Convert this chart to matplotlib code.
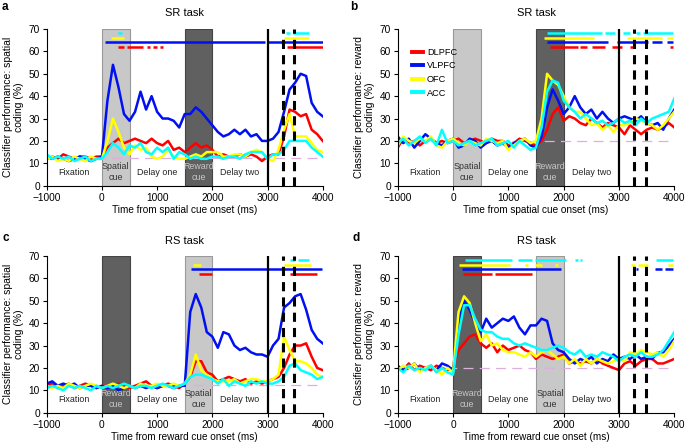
import numpy as np
import matplotlib.pyplot as plt

plt.rcParams['font.family'] = ['Liberation Sans', 'DejaVu Sans']

# time axis (ms), one value every 100 ms
T = list(range(-1000, 4001, 100))

# panel a: SR task, spatial coding
a_dlpfc = [12,13,12,14,13,12,13,13,12,13,13, 17,19,21,19,20,21,20,19,21,19,
           18,20,16,17,15,17,19,17,18,16, 13,14,13,13,14,13,14,13,11,13,
           14,14,22,34,33,31,32,25,23,20]
a_vlpfc = [13,12,13,12,11,12,13,12,11,12,13, 38,54,44,32,29,33,42,34,40,33,
           30,30,29,26,32,32,35,33,30,27, 24,22,23,25,23,25,22,23,20,20,
           21,24,33,43,46,50,49,37,33,31]
a_ofc = [12,13,11,12,11,13,12,11,13,12,12, 20,30,24,17,14,18,16,17,13,12,
         13,16,13,12,12,13,14,13,15,15, 15,13,13,14,14,13,15,16,15,12,
         11,16,25,32,22,22,22,19,16,15]
a_acc = [14,12,13,12,13,11,12,13,11,12,12, 15,19,17,14,18,17,19,15,14,17,
         15,17,12,15,14,12,13,12,12,13, 13,12,13,13,12,14,15,15,15,12,
         14,14,16,20,20,20,20,17,15,13]

# panel b: SR task, reward coding
b_dlpfc = [17,21,19,20,18,20,21,19,20,19,20, 21,19,20,21,20,19,21,20,20,18,
           19,21,20,19,18, 20,25,32,35,29, 31,30,28,27,30,28,26,28,27,26,
           23,27,25,23,25,26,25,26,28,26]
b_vlpfc = [22,19,21,17,20,23,21,19,18,20,21, 17,18,21,20,17,19,20,18,19,17,
           19,20,21,18,17, 22,35,43,38,32, 35,40,35,32,34,30,33,30,28,30,
           31,30,29,31,28,27,28,25,30,34]
b_ofc = [18,22,20,19,21,20,22,18,17,20,21, 19,18,20,19,18,21,20,19,20,16,
         18,20,21,19,20, 30,50,47,45,40, 35,33,33,30,27,28,25,27,24,27,
         27,28,30,29,28,27,25,27,30,33]
b_acc = [19,21,18,20,22,19,21,18,25,19,20, 18,19,20,18,19,20,21,18,19,20,
         17,20,18,16,17, 26,42,47,46,38, 35,33,30,32,30,28,29,27,28,30,
         28,29,27,30,28,30,31,32,33,39]

# panel c: RS task, spatial coding
c_dlpfc = [12,13,11,12,13,11,12,13,12,11,12, 12,11,13,12,11,12,13,14,12,11,
           12,13,12,11,13, 16,23,23,18,17, 14,15,16,15,14,15,13,14,13,14,
           15,16,20,26,30,30,31,25,20,19]
c_vlpfc = [13,14,12,13,12,13,11,12,12,11,12, 11,12,10,11,12,11,12,11,12,11,
           12,12,11,12,12, 45,53,47,36,34, 29,36,35,30,28,29,27,26,26,25,
           30,33,47,49,52,53,46,37,33,31]
c_ofc = [12,11,12,11,13,12,11,12,13,12,11, 12,13,12,11,12,11,13,12,12,13,
         12,12,13,12,13, 17,26,19,17,15, 14,14,14,15,13,14,15,15,14,14,
         15,17,34,28,23,23,22,20,17,16]
c_acc = [11,12,11,10,12,11,12,11,10,12,11, 12,11,12,13,12,11,12,12,11,12,
         13,12,11,12,13, 16,17,17,16,15, 13,15,12,14,13,12,14,13,14,13,
         13,14,16,21,22,19,18,17,15,16]

# panel d: RS task, reward coding
d_dlpfc = [20,19,22,19,21,20,19,21,20,19,20, 28,31,34,35,31,29,31,27,30,28,
           29,30,28,27,24,26,25,24,25,26, 22,23,22,23,22,24,22,21,20,19,
           22,23,21,23,24,24,22,22,23,24]
d_vlpfc = [21,19,20,22,19,20,21,19,22,21,19, 40,50,46,40,36,42,38,40,42,41,
           43,38,35,39,39,42,41,31,28,27, 24,22,24,23,25,22,24,23,26,24,
           25,24,26,24,25,24,27,27,30,33]
d_ofc = [19,21,20,22,18,20,21,19,17,20,18, 45,52,49,40,32,35,30,31,28,27,
         27,26,25,27,25,27,28,26,24,25, 22,24,21,24,22,24,23,22,23,24,
         23,27,26,28,27,26,27,25,28,32]
d_acc = [20,18,21,19,20,19,21,18,20,18,17, 35,48,48,42,37,36,36,34,33,33,
         31,30,31,30,29,28,28,29,30,29, 27,26,28,25,26,25,27,26,25,23,
         25,26,25,27,25,25,26,28,32,36]

# significance bars (start, end) in ms, order DLPFC, VLPFC, OFC, ACC
a_sig = [[(300,400),(450,750),(810,870),(920,990),(1050,1110),(3360,4000)],
         [(57,2955),(3015,4000)],
         [(165,400),(3290,3760)],
         [(290,360),(3340,3410),(3455,3760)]]
b_sig = [[(1750,2265),(2300,2420),(2510,2750),(2880,3050),(3200,3290),(3920,3985)],
         [(1690,2810),(2960,3530),(3590,3770),(3860,3985)],
         [(1645,2540),(3140,3770),(3860,3985)],
         [(1690,2690),(2750,2930),(3070,3200),(3310,3380),(3440,3985)]]
c_sig = [[(1760,2000),(3410,3890)],
         [(1610,3995)],
         [(1650,1790),(3300,3780)],
         [(3400,3500),(3550,3750)]]
d_sig = [[(187,700),(760,1430)],
         [(157,1947),(3300,3350),(3650,3775),(3830,3985)],
         [(110,1030),(1300,1360),(1480,1600),(1840,1890),(3220,3290),(3350,3530),(3890,3985)],
         [(217,1060),(1170,1420),(1480,2040),(2200,2250),(2300,2340),(3660,3985)]]
sig_levels = [62, 64, 66, 68]

labels = ['DLPFC', 'VLPFC', 'OFC', 'ACC']
colors = ['#ff0000', '#0010f0', '#ffff00', '#00ffff']


def draw_panel(ax, series, sig, chance, spatial_first, title, ylab, xlab):
	light = (0, 500) if spatial_first else (1500, 2000)
	dark = (1500, 2000) if spatial_first else (0, 500)
	ax.axvspan(light[0], light[1], facecolor='#c8c8c8', edgecolor='#999999', lw=0.8, zorder=0)
	ax.axvspan(dark[0], dark[1], facecolor='#606060', edgecolor='#444444', lw=0.8, zorder=0)
	ax.axhline(chance, color='#dcb0dc', lw=0.9, dashes=(8, 5), zorder=1)

	for i, s in enumerate(series):
		ax.plot(T, s, color=colors[i], lw=1.8, label=labels[i], zorder=2)
	for i, segs in enumerate(sig):
		for (x0, x1) in segs:
			ax.plot([x0, x1], [sig_levels[i], sig_levels[i]], color=colors[i], lw=1.8,
					solid_capstyle='butt', zorder=2)

	ax.axvline(3000, color='black', lw=1.6, zorder=3)
	for xv in (3275, 3480):
		ax.axvline(xv, color='black', lw=2.2, dashes=(3, 2), zorder=3)

	tk = dict(ha='center', va='center', fontsize=6.4)
	ax.text(-500, 6, 'Fixation', color='#222222', **tk)
	ax.text(1000, 6, 'Delay one', color='#222222', **tk)
	ax.text(2500, 6, 'Delay two', color='#222222', **tk)
	ax.text(sum(light) / 2, 6, 'Spatial\ncue', color='#333333', linespacing=1.3, **tk)
	ax.text(sum(dark) / 2, 6, 'Reward\ncue', color='#c8c8c8', linespacing=1.3, **tk)

	ax.set_xlim(-1000, 4000)
	ax.set_ylim(0, 70)
	ax.set_xticks([-1000, 0, 1000, 2000, 3000, 4000])
	ax.set_yticks(range(0, 71, 10))
	ax.spines['top'].set_visible(False)
	ax.spines['right'].set_visible(False)
	ax.tick_params(labelsize=7.3, length=3, width=0.8, pad=2)
	ax.set_title(title, fontsize=8, pad=9)
	ax.set_ylabel(ylab, fontsize=7.5, labelpad=3, linespacing=1.1)
	ax.set_xlabel(xlab, fontsize=7.2, labelpad=2)
	return ax


def main():
	fig = plt.figure(figsize=(6.85, 4.44), dpi=100)
	ax1 = fig.add_axes([0.0682, 0.5818, 0.4029, 0.3529])
	ax2 = fig.add_axes([0.5806, 0.5818, 0.4038, 0.3529])
	ax3 = fig.add_axes([0.0682, 0.0705, 0.4029, 0.3529])
	ax4 = fig.add_axes([0.5806, 0.0705, 0.4038, 0.3529])

	sp = 'Classifier performance: spatial\ncoding (%)'
	rw = 'Classifier performance: reward\ncoding (%)'
	draw_panel(ax1, [a_dlpfc, a_vlpfc, a_ofc, a_acc], a_sig, 12.5, True, 'SR task', sp,
			   'Time from spatial cue onset (ms)')
	draw_panel(ax2, [b_dlpfc, b_vlpfc, b_ofc, b_acc], b_sig, 20, True, 'SR task', rw,
			   'Time from spatial cue onset (ms)')
	draw_panel(ax3, [c_dlpfc, c_vlpfc, c_ofc, c_acc], c_sig, 12.5, False, 'RS task', sp,
			   'Time from reward cue onset (ms)')
	draw_panel(ax4, [d_dlpfc, d_vlpfc, d_ofc, d_acc], d_sig, 20, False, 'RS task', rw,
			   'Time from reward cue onset (ms)')

	handles = ax2.get_lines()[1:5]
	leg = ax2.legend(handles, labels, loc='upper left', bbox_to_anchor=(0.03, 0.915),
					 frameon=False, fontsize=6.6, handlelength=1.3, handletextpad=0.4,
					 labelspacing=0.5, borderaxespad=0.2)
	for h in leg.get_lines():
		h.set_linewidth(2.8)

	for x, y, s in [(0.003, 0.998, 'a'), (0.511, 0.998, 'b'), (0.003, 0.478, 'c'), (0.514, 0.478, 'd')]:
		fig.text(x, y, s, fontsize=8.5, fontweight='bold', va='top', ha='left')

	fig.savefig('out.png', dpi=100)


if __name__ == '__main__':
	main()
